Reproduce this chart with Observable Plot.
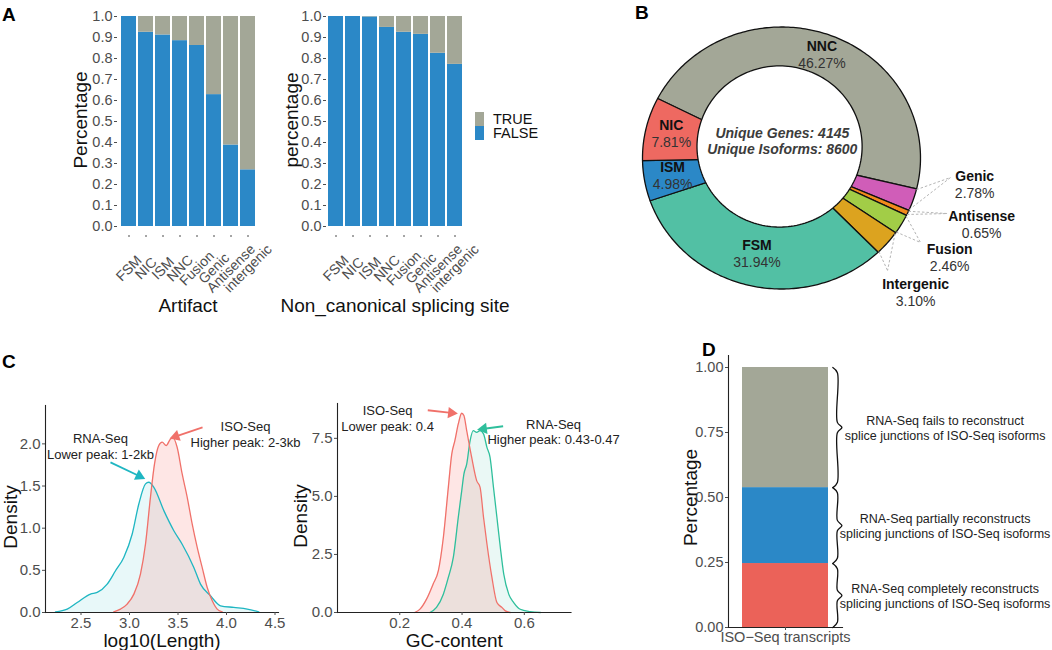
<!DOCTYPE html>
<html><head><meta charset="utf-8">
<script src="https://cdn.jsdelivr.net/npm/d3@7"></script>
<script src="https://cdn.jsdelivr.net/npm/@observablehq/plot@0.6"></script>
<style>
body{margin:0;background:#fff;}
#fig{position:relative;width:1052px;height:650px;overflow:hidden;font-family:"Liberation Sans",Arial,sans-serif;background:#fff;}
#fig svg{position:absolute;overflow:visible;max-width:none;}
#fig svg g[aria-label$="tick label"], #fig svg g[aria-label$="tick label"] text{font-size:14.5px;}
#fig svg.cpan g[aria-label$="tick label"], #fig svg.cpan g[aria-label$="tick label"] text{font-size:15px;}
#fig svg.apan g[aria-label="x-axis tick label"], #fig svg.apan g[aria-label="x-axis tick label"] text{font-size:14px;}
.letter{position:absolute;font-weight:bold;font-size:19px;line-height:1;}
.leg{position:absolute;font-size:14.5px;color:#111;}
.leg div{display:flex;align-items:center;height:14px;}
.leg span.k{display:inline-block;width:9px;height:14px;margin-right:9px;}
</style></head><body><div id="fig"></div>
<script>
// ---------------- DATA ----------------
// Panel A
const cats = ["FSM","NIC","ISM","NNC","Fusion","Genic","Antisense","intergenic"];
const artifactFalse = [1.0,0.925,0.912,0.885,0.862,0.628,0.388,0.27];
const noncanonFalse = [1.0,1.0,0.998,0.948,0.925,0.915,0.825,0.772];
const statusLevels = ["TRUE","FALSE"];
// Panel B
const donutCats = ["NNC","Genic","Antisense","Fusion","Intergenic","FSM","ISM","NIC"];
const donutPct = [46.27,2.78,0.65,2.46,3.10,31.94,4.98,7.81];
const uniqueGenes = 4145, uniqueIsoforms = 8600;
// Panel C (density curves)
const lenRnaX = [2.237,2.358,2.461,2.598,2.667,2.770,2.856,2.941,3.028,3.096,3.165,3.199,3.251,3.354,3.457,3.543,3.663,3.732,3.835,3.938,4.075,4.213,4.333];
const lenRnaY = [0.008,0.04,0.119,0.218,0.238,0.337,0.495,0.653,0.931,1.287,1.525,1.545,1.485,1.208,0.97,0.81,0.535,0.337,0.198,0.08,0.06,0.04,0.008];
const lenIsoX = [2.838,2.907,2.976,3.045,3.113,3.165,3.216,3.258,3.302,3.337,3.378,3.423,3.450,3.491,3.543,3.595,3.646,3.698,3.749,3.801,3.853,3.904,3.956];
const lenIsoY = [0.008,0.04,0.1,0.218,0.455,0.812,1.366,1.762,1.98,2.02,1.98,2.059,2.071,1.96,1.643,1.366,1.05,0.772,0.535,0.297,0.139,0.04,0.008];
const gcIsoX = [0.248,0.265,0.286,0.307,0.324,0.340,0.356,0.367,0.377,0.388,0.399,0.406,0.415,0.431,0.447,0.458,0.469,0.480,0.496,0.512,0.528,0.539,0.555];
const gcIsoY = [0,0.144,0.575,1.22,1.8,3.23,5.39,6.82,7.4,8.12,8.58,8.48,7.83,6.68,5.68,5.39,4.1,2.95,1.51,0.43,0.22,0.07,0];
const gcRnaX = [0.297,0.318,0.340,0.356,0.372,0.388,0.399,0.406,0.415,0.426,0.436,0.447,0.458,0.469,0.480,0.490,0.501,0.512,0.523,0.534,0.550,0.566,0.587,0.619,0.652];
const gcRnaY = [0,0.216,0.79,1.51,2.37,4.1,5.24,5.96,6.39,7.4,7.83,7.76,7.83,7.69,7.11,6.68,5.39,4.1,2.8,1.65,0.79,0.43,0.14,0.04,0];
// Panel D
const dCategory = "ISO\u2212Seq transcripts";
const dLevels = ["completely","partially","fails"];
const dShares = [0.246,0.292,0.462];
const dTexts = ["RNA-Seq completely reconstructs\nsplicing junctions of ISO-Seq isoforms",
                "RNA-Seq partially reconstructs\nsplicing junctions of ISO-Seq isoforms",
                "RNA-Seq fails to reconstruct\nsplice junctions of ISO-Seq isoforms"];

// ---------------- STYLE ----------------
const GRAY = "#a3a797", BLUE = "#2b88c7", REDD = "#eb6259";
const donutColors = ["#a3a797","#d05db8","#f28a1c","#a2cd47","#dca31f","#52c0a4","#2b88c7","#ee6961"];
const ISO_COL = "#f0716a", RNA_COL_L = "#1fb6c2", RNA_COL_R = "#2fbf9c";
const FONT = "Liberation Sans, Arial, sans-serif";
const AX = "#4d4d4d";
const baseStyle = {fontFamily: FONT, background: "transparent", overflow: "visible"};
const fig = document.getElementById("fig");
function place(el, left, top, cls){ el.style.left = left+"px"; el.style.top = top+"px"; if (cls) el.classList.add(cls); fig.appendChild(el); }
function letter(t, l, tp){ const d=document.createElement("div"); d.className="letter"; d.textContent=t; d.style.left=l+"px"; d.style.top=tp+"px"; fig.appendChild(d); }
const title = (t, o) => Plot.text([t], {text: d => d, fontSize: 19, fill: "#111", textAnchor: "middle", lineAnchor: "middle", ...o});

// ---------------- PANEL A ----------------
function barPanel(values, yTitle, xTitle, left, frameL, frameR, ydx) {
  const W = 210;
  const rows = cats.flatMap((c,i) => [
    {cat: c, status: "FALSE", y1: 0, y2: values[i]},
    {cat: c, status: "TRUE", y1: values[i], y2: 1}]);
  return Plot.plot({
    width: W, height: 320,
    marginLeft: frameL-left, marginRight: W-(frameR-left), marginTop: 16, marginBottom: 85,
    style: baseStyle,
    x: {domain: cats, paddingInner: 0.12, paddingOuter: 0},
    y: {domain: [0,1], range: [226,16]},
    color: {domain: statusLevels, range: [GRAY, BLUE]},
    marks: [
      Plot.barY(rows, {x: "cat", y1: "y1", y2: "y2", fill: "status"}),
      Plot.axisY({ticks: d3.range(0,1.0001,0.1), tickFormat: d3.format(".1f"), tickSize: 3, tickPadding: 2, fontSize: 14.5, color: AX, label: null}),
      Plot.axisX({tickRotate: -45, textAnchor: "middle", lineAnchor: "middle", tickSize: 2, tickPadding: 31, fontSize: 14, color: AX, label: null}),
      title(yTitle, {frameAnchor: "left", rotate: -90, dx: ydx, dy: -6}),
      title(xTitle, {frameAnchor: "bottom", dy: 70})
    ]
  });
}
place(barPanel(artifactFalse, "Percentage", "Artifact", 60, 117, 258, -37), 60, 0, "apan");
place(barPanel(noncanonFalse, "percentage", "Non_canonical splicing site", 270, 326, 463, -35), 270, 0, "apan");
// legend
(() => {
  const lg = document.createElement("div"); lg.className = "leg";
  lg.style.left = "475px"; lg.style.top = "112px";
  lg.innerHTML = statusLevels.map((s,i) => `<div><span class="k" style="background:${i===0?GRAY:BLUE}"></span>${s}</div>`).join("");
  fig.appendChild(lg);
})();

// ---------------- PANEL B ----------------
(() => {
  const total = d3.sum(donutPct);
  const start = -63;
  const pt = (a, r, cx=0, cy=0, ry=r) => ({x: cx + r*Math.sin(a*Math.PI/180), y: cy + ry*Math.cos(a*Math.PI/180)});
  let a = start;
  const slices = donutCats.map((c,i) => {
    const a0 = a, a1 = a + donutPct[i]/total*360; a = a1;
    const pts = [{x:0,y:0}];
    const n = Math.max(2, Math.ceil((a1-a0)));
    for (let k=0;k<=n;k++) pts.push(pt(a0+(a1-a0)*k/n, 1));
    pts.push({x:0,y:0});
    return {cat: c, pct: donutPct[i], a0, a1, mid: (a0+a1)/2, pts, color: donutColors[i]};
  });
  const hole = {cx: -0.014, cy: 0.088, rx: 0.594, ry: 0.615};
  const holePts = d3.range(0, 361, 2).map(t => pt(t, hole.rx, hole.cx, hole.cy, hole.ry));
  const ringMid = ang => {
    const u = [Math.sin(ang*Math.PI/180), Math.cos(ang*Math.PI/180)];
    const uc = u[0]*hole.cx + u[1]*hole.cy;
    const t = uc + Math.sqrt(uc*uc - (hole.cx**2+hole.cy**2) + 0.6*0.6);
    return (1+t)/2;
  };
  const inner = slices.filter(s => ["NNC","NIC","ISM","FSM"].includes(s.cat)).map(s => ({...pt(s.mid, ringMid(s.mid)), name: s.cat, pct: s.pct.toFixed(2)+"%"}));
  const outerLayout = {Genic: [1.39,-0.20,1.216,-0.149], Antisense: [1.44,-0.505,1.194,-0.424], Fusion: [1.21,-0.76,1.0,-0.645], Intergenic: [0.965,-1.03,0.763,-0.859]};
  const outer = slices.filter(s => outerLayout[s.cat]).map(s => ({x: outerLayout[s.cat][0], y: outerLayout[s.cat][1], name: s.cat, pct: s.pct.toFixed(2)+"%"}));
  const leaders = slices.filter(s => outerLayout[s.cat]).flatMap(s => [s.a0+0.4, s.a1-0.4].map(ang => {
    const p = pt(ang, 1.0);
    return {x1: p.x, y1: p.y, x2: outerLayout[s.cat][2], y2: outerLayout[s.cat][3]};
  }));
  const svg = Plot.plot({
    width: 472, height: 320, margin: 0, style: baseStyle,
    x: {domain: [-1,1], range: [62,340], axis: null},
    y: {domain: [-1,1], range: [288.5,26.5], axis: null},
    marks: [
      ...slices.map(s => Plot.line(s.pts, {x: "x", y: "y", fill: s.color, stroke: "#111", strokeWidth: 1.3, strokeLinejoin: "round"})),
      Plot.line(holePts, {x: "x", y: "y", fill: "white", stroke: "#111", strokeWidth: 1.3}),
      Plot.link(leaders, {x1: "x1", y1: "y1", x2: "x2", y2: "y2", stroke: "#b5b5b5", strokeWidth: 1, strokeDasharray: "2.5,2"}),
      Plot.text(inner, {x: "x", y: "y", text: "name", dy: -9, fontSize: 14, fontWeight: "bold", fill: "#111"}),
      Plot.text(inner, {x: "x", y: "y", text: "pct", dy: 8, fontSize: 14, fill: "#333"}),
      Plot.text(outer, {x: "x", y: "y", text: "name", dy: -8, fontSize: 14, fontWeight: "bold", fill: "#111"}),
      Plot.text(outer, {x: "x", y: "y", text: "pct", dy: 9, fontSize: 14, fill: "#333"}),
      Plot.text([`Unique Genes: ${uniqueGenes}\nUnique Isoforms: ${uniqueIsoforms}`], {x: hole.cx+0.02, y: hole.cy+0.045, text: d => d, fontSize: 14, fontStyle: "italic", fontWeight: "bold", fill: "#3c3c3c", lineHeight: 1.18})
    ]
  });
  place(svg, 580, 0);
})();

// ---------------- PANEL C ----------------
function arrowMarks(arrows, xs, ys, color) {
  const px = v => xs.range[0] + (v-xs.domain[0])/(xs.domain[1]-xs.domain[0])*(xs.range[1]-xs.range[0]);
  const py = v => ys.range[0] + (v-ys.domain[0])/(ys.domain[1]-ys.domain[0])*(ys.range[1]-ys.range[0]);
  const ix = p => xs.domain[0] + (p-xs.range[0])/(xs.range[1]-xs.range[0])*(xs.domain[1]-xs.domain[0]);
  const iy = p => ys.domain[0] + (p-ys.range[0])/(ys.range[1]-ys.range[0])*(ys.domain[1]-ys.domain[0]);
  const segs = [], tris = [];
  for (const a of arrows) {
    const X1 = px(a.x1), Y1 = py(a.y1), X2 = px(a.x2), Y2 = py(a.y2);
    const L = Math.hypot(X2-X1, Y2-Y1), ux = (X2-X1)/L, uy = (Y2-Y1)/L;
    segs.push({x1: a.x1, y1: a.y1, x2: ix(X2-6*ux), y2: iy(Y2-6*uy)});
    tris.push({x: ix(X2-3.5*ux), y: iy(Y2-3.5*uy), rot: Math.atan2(ux, -uy)*180/Math.PI});
  }
  return [
    Plot.link(segs, {x1: "x1", y1: "y1", x2: "x2", y2: "y2", stroke: color, strokeWidth: 1.8}),
    Plot.dot(tris, {x: "x", y: "y", symbol: "triangle", r: 4.2, fill: color, stroke: "none", rotate: "rot"})
  ];
}
function densityPanel(o) {
  const rna = o.rnaX.map((x,i) => ({x, y: o.rnaY[i]}));
  const iso = o.isoX.map((x,i) => ({x, y: o.isoY[i]}));
  return Plot.plot({
    width: o.W, height: 320, marginLeft: o.xs.range[0], marginRight: o.W - o.frameR, marginTop: o.ys.range[1], marginBottom: 320 - o.ys.range[0],
    style: baseStyle,
    x: {...o.xs}, y: {...o.ys},
    marks: [
      Plot.areaY(rna, {x: "x", y: "y", fill: o.rnaCol, fillOpacity: 0.1, curve: "monotone-x"}),
      Plot.areaY(iso, {x: "x", y: "y", fill: "#f8766d", fillOpacity: 0.18, curve: "monotone-x"}),
      Plot.line(rna, {x: "x", y: "y", stroke: o.rnaCol, strokeWidth: 1.3, curve: "monotone-x"}),
      Plot.line(iso, {x: "x", y: "y", stroke: ISO_COL, strokeWidth: 1.3, curve: "monotone-x"}),
      Plot.frame({anchor: "left", stroke: "#222", strokeWidth: 1.1}),
      Plot.frame({anchor: "bottom", stroke: "#222", strokeWidth: 1.1}),
      Plot.axisX({ticks: o.xTicks, tickFormat: d3.format(".1f"), tickSize: 3, tickPadding: 2, fontSize: 15, color: AX, label: null}),
      Plot.axisY({ticks: o.yTicks, tickFormat: d3.format(".1f"), tickSize: 3, tickPadding: 2, fontSize: 15, color: AX, label: null}),
      title("Density", {frameAnchor: "left", rotate: -90, dx: o.ydx, dy: 8}),
      title(o.xTitle, {frameAnchor: "bottom", dy: 28}),
      Plot.text(o.notes, {x: "x", y: "y", text: "t", fontSize: 13, lineHeight: 1.2, fill: "#222"}),
      ...arrowMarks(o.isoArrow, o.xs, o.ys, ISO_COL),
      ...arrowMarks(o.rnaArrow, o.xs, o.ys, o.rnaCol)
    ]
  });
}
place(densityPanel({
  W: 320, frameR: 278,
  xs: {domain: [2.134, 4.536], range: [45, 278]}, ys: {domain: [0, 2.455], range: [282, 75]},
  rnaX: lenRnaX, rnaY: lenRnaY, isoX: lenIsoX, isoY: lenIsoY, rnaCol: RNA_COL_L,
  xTicks: [2.5,3,3.5,4,4.5], yTicks: [0,0.5,1,1.5,2], ydx: -35, xTitle: "log10(Length)",
  notes: [{x: 2.70, y: 1.975, t: "RNA-Seq\nLower peak: 1-2kb"}, {x: 4.196, y: 2.117, t: "ISO-Seq\nHigher peak: 2-3kb"}],
  rnaArrow: [{x1: 2.804, y1: 1.78, x2: 3.134, y2: 1.60}],
  isoArrow: [{x1: 3.753, y1: 2.195, x2: 3.443, y2: 2.076}]
}), 0, 330, "cpan");
place(densityPanel({
  W: 340, frameR: 290.5,
  xs: {domain: [0, 0.75], range: [57, 290.5]}, ys: {domain: [0, 9.0], range: [282, 73]},
  rnaX: gcRnaX, rnaY: gcRnaY, isoX: gcIsoX, isoY: gcIsoY, rnaCol: RNA_COL_R,
  xTicks: [0.2,0.4,0.6], yTicks: [0,2.5,5,7.5], ydx: -37, xTitle: "GC-content",
  notes: [{x: 0.161, y: 8.38, t: "ISO-Seq\nLower peak: 0.4"}, {x: 0.694, y: 7.80, t: "RNA-Seq\nHigher peak: 0.43-0.47"}],
  rnaArrow: [{x1: 0.532, y1: 8.02, x2: 0.458, y2: 7.89}],
  isoArrow: [{x1: 0.29, y1: 8.71, x2: 0.377, y2: 8.58}]
}), 280, 330, "cpan");

// ---------------- PANEL D ----------------
(() => {
  const cum = d3.cumsum(dShares);
  const rows = dLevels.map((l,i) => ({cat: dCategory, level: l, y1: i ? cum[i-1] : 0, y2: cum[i], text: dTexts[i]}));
  const common = {width: 372, height: 320, marginLeft: 48, marginRight: 210, marginTop: 25, marginBottom: 23, style: baseStyle,
                  y: {domain: [0,1], range: [297,37]}};
  const bars = Plot.plot({
    ...common,
    x: {domain: [dCategory], paddingInner: 0.1, paddingOuter: 0.1465},
    color: {domain: dLevels, range: [REDD, BLUE, GRAY]},
    marks: [
      Plot.barY(rows, {x: "cat", y1: "y1", y2: "y2", fill: "level"}),
      Plot.frame({anchor: "left", stroke: "#222", strokeWidth: 1.1}),
      Plot.frame({anchor: "bottom", stroke: "#222", strokeWidth: 1.1}),
      Plot.axisX({tickSize: 3, tickPadding: 1, fontSize: 14, color: AX, label: null}),
      Plot.axisY({ticks: [0,0.25,0.5,0.75,1], tickFormat: d3.format(".2f"), tickSize: 3, tickPadding: 2, fontSize: 14.5, color: AX, label: null}),
      title("Percentage", {frameAnchor: "left", rotate: -90, dx: -38, dy: 6})
    ]
  });
  place(bars, 680, 330);
  const e = 0.02, x0 = 0.915, xv = 0.955, xt = 0.995;
  const braces = rows.flatMap(r => {
    const m = (r.y1 + r.y2)/2;
    return [[x0, r.y1], [xv, r.y1+e], [xv, m-e], [xt, m], [xv, m+e], [xv, r.y2-e], [x0, r.y2]].map(([x,y]) => ({x, y, level: r.level}));
  });
  const over = Plot.plot({
    ...common,
    x: {domain: [0,1], range: [48,162], axis: null},
    y: {...common.y, axis: null},
    marks: [
      Plot.line(braces, {x: "x", y: "y", z: "level", stroke: "#111", strokeWidth: 1.3, curve: "catmull-rom"}),
      Plot.text(rows, {x: 1.9, y: d => (d.y1+d.y2)/2, text: "text", fontSize: 12.5, lineHeight: 1.2, fill: "#222"})
    ]
  });
  place(over, 680, 330);
})();

letter("A", 2, 5); letter("B", 635, 3); letter("C", 2, 352); letter("D", 702, 340);
</script></body></html>
